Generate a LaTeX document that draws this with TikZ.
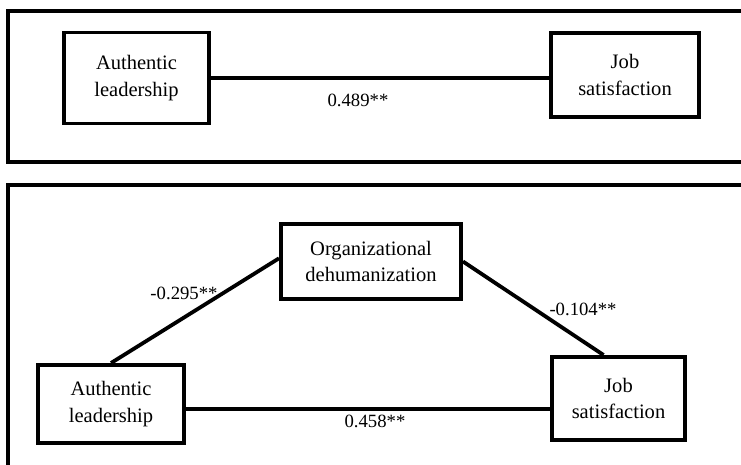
\documentclass[tikz,border=0pt]{standalone}
\usepackage{fontspec}
\setmainfont{Liberation Serif}
\usepackage{tikz}
\usetikzlibrary{positioning,calc}

\begin{document}
\begin{tikzpicture}[x=0.025cm, y=-0.025cm,
    box/.style={draw, line width=2.8pt, align=center, inner sep=0pt,
        font=\fontsize{14.6}{19}\selectfont},
    coef/.style={inner sep=1pt, font=\fontsize{13.3}{15}\selectfont},
    link/.style={line width=2.7pt},
    frame/.style={line width=2.4pt}]
    \useasboundingbox (0,0) rectangle (741,465);
    % upper panel: total effect
    \draw[frame] (741,11) -| (8,162) -- (741,162);
    \node[box, minimum width=145*0.025cm, minimum height=91*0.025cm] (al1) at (136.5,78) {Authentic\\leadership};
    \node[box, minimum width=148*0.025cm, minimum height=84*0.025cm] (js1) at (625,75) {Job\\satisfaction};
    \draw[link] (al1.east) -- (al1.east -| js1.west);
    \node[coef] (c1) at (358,100) {0.489**};
    % lower panel: mediation
    \draw[frame] (741,185) -| (8,465);
    \node[box, minimum width=180*0.025cm, minimum height=75*0.025cm] (od) at (371,261.5) {Organizational\\dehumanization};
    \node[box, minimum width=146*0.025cm, minimum height=78*0.025cm] (al2) at (111,404) {Authentic\\leadership};
    \node[box, minimum width=133*0.025cm, minimum height=83*0.025cm] (js2) at (618.5,398.5) {Job\\satisfaction};
    \draw[link] (al2.north) -- (od.178);
    \draw[link] (od.east) -- (js2.109);
    \draw[link] (al2.east |- 0,409) -- (js2.west |- 0,409);
    \node[coef] (c2) at (184,293) {-0.295**};
    \node[coef] (c3) at (583,309) {-0.104**};
    \node[coef] (c4) at (375,421) {0.458**};
\end{tikzpicture}
\end{document}
